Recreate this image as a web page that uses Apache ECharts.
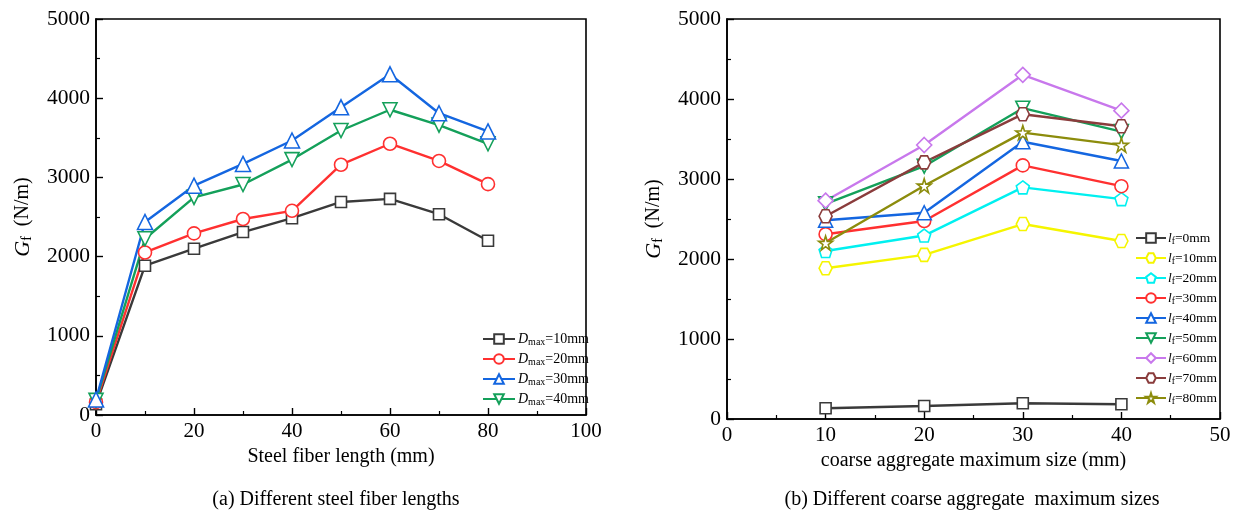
<!DOCTYPE html>
<html><head><meta charset="utf-8">
<script src="https://cdn.jsdelivr.net/npm/echarts@6/dist/echarts.min.js"></script>
<style>html,body{margin:0;padding:0;background:#fff}#c{width:1242px;height:523px}</style>
</head><body><div id="c"></div>
<script>
// ---- Data ----
var fiberLengths = [0, 10, 20, 30, 40, 50, 60, 70, 80];           // mm (chart a x)
var dmax10 = [135, 1885, 2100, 2310, 2485, 2690, 2729, 2535, 2200];
var dmax20 = [162, 2052, 2293, 2475, 2578, 3160, 3425, 3208, 2915];
var dmax30 = [196, 2437, 2895, 3170, 3466, 3885, 4302, 3810, 3580];
var dmax40 = [185, 2225, 2748, 2910, 3225, 3592, 3854, 3660, 3424];

var aggSizes = [10, 20, 30, 40];                                    // mm (chart b x)
var lf0  = [135, 162, 196, 185];
var lf10 = [1885, 2052, 2437, 2225];
var lf20 = [2100, 2293, 2895, 2748];
var lf30 = [2310, 2475, 3170, 2910];
var lf40 = [2485, 2578, 3466, 3225];
var lf50 = [2690, 3160, 3885, 3592];
var lf60 = [2729, 3425, 4302, 3854];
var lf70 = [2535, 3208, 3810, 3660];
var lf80 = [2200, 2915, 3580, 3424];

var yTicks = [0, 1000, 2000, 3000, 4000, 5000];

// ---- Styling ----
var FONT = 'Liberation Serif';
var SYM = {
  hex: 'path://M25,6.7 L75,6.7 L100,50 L75,93.3 L25,93.3 L0,50 Z',
  pent: 'path://M50,0 L97.6,34.5 L79.4,90.5 L20.6,90.5 L2.4,34.5 Z',
  star: 'path://M50,0 L61.2,34.5 L97.6,34.5 L68.2,55.9 L79.4,90.5 L50,69.1 L20.6,90.5 L31.8,55.9 L2.4,34.5 L38.8,34.5 Z',
  down: 'path://M0,0 L100,0 L50,87 Z',
  up: 'path://M50,0 L100,87 L0,87 Z'
};
function pairs(xs, ys){ return xs.map(function(x,i){ return [x, ys[i]]; }); }
function mk(name, xi, xs, ys, color, symbol, size){
  return {
    name: name, type: 'line', xAxisIndex: xi, yAxisIndex: xi,
    data: pairs(xs, ys), color: color,
    symbol: symbol, symbolSize: size || 12, showSymbol: true,
    lineStyle: {color: color, width: 2.4},
    itemStyle: {color: '#fff', borderColor: color, borderWidth: 1.6},
    emphasis: {disabled: true}, animation: false, z: 3
  };
}
var C = {k:'#3a3a3a', r:'#ff3030', b:'#1466e0', g:'#14a05a', y:'#f5f500', c:'#00f0f0', p:'#c878ec', br:'#8a3c3c', o:'#8c8c0c'};

var series = [
  mk('D10', 0, fiberLengths, dmax10, C.k, 'rect', 11),
  mk('D20', 0, fiberLengths, dmax20, C.r, 'circle', 13),
  mk('D40', 0, fiberLengths, dmax40, C.g, SYM.down, 14),
  mk('D30', 0, fiberLengths, dmax30, C.b, SYM.up, 15),
  mk('L0', 1, aggSizes, lf0, C.k, 'rect', 11),
  mk('L10', 1, aggSizes, lf10, C.y, SYM.hex, 13),
  mk('L20', 1, aggSizes, lf20, C.c, SYM.pent, 13),
  mk('L30', 1, aggSizes, lf30, C.r, 'circle', 13),
  mk('L40', 1, aggSizes, lf40, C.b, SYM.up, 14),
  mk('L50', 1, aggSizes, lf50, C.g, SYM.down, 14),
  mk('L60', 1, aggSizes, lf60, C.p, 'diamond', 15),
  mk('L70', 1, aggSizes, lf70, C.br, SYM.hex, 13),
  mk('L80', 1, aggSizes, lf80, C.o, SYM.star, 14)
];

function xAx(gi, max, interval, name, gap){
  return {
    type: 'value', gridIndex: gi, min: 0, max: max, interval: interval,
    name: name, nameLocation: 'middle', nameGap: gap,
    nameTextStyle: {fontFamily: FONT, fontSize: 20, color: '#000'},
    axisLine: {show: true, onZero: false, lineStyle: {color: '#000', width: 1.6}},
    axisTick: {show: true, inside: true, length: 7, lineStyle: {color: '#000', width: 1.4}},
    minorTick: {show: true, splitNumber: 2, length: 4, lineStyle: {color: '#000', width: 1.2}},
    axisLabel: {fontFamily: FONT, fontSize: 21, color: '#000', margin: 6, formatter: function(v){ return String(v); }},
    splitLine: {show: false}
  };
}
function yAx(gi, gap){
  return {
    type: 'value', gridIndex: gi, min: yTicks[0], max: yTicks[yTicks.length-1], interval: 1000,
    name: '{g|G}{f|f}{n|  (N/m)}', nameLocation: 'middle', nameGap: gap, nameRotate: 90,
    nameTextStyle: {fontFamily: FONT, fontSize: 20, color: '#000',
      rich: {
        g: {fontFamily: FONT, fontSize: 22, fontStyle: 'italic', color: '#000'},
        f: {fontFamily: FONT, fontSize: 14, color: '#000', padding: [8,0,0,0]},
        n: {fontFamily: FONT, fontSize: 20, color: '#000'}
      }},
    axisLine: {show: true, lineStyle: {color: '#000', width: 1.6}},
    axisTick: {show: true, inside: true, length: 7, lineStyle: {color: '#000', width: 1.4}},
    minorTick: {show: true, splitNumber: 2, length: 4, lineStyle: {color: '#000', width: 1.2}},
    axisLabel: {fontFamily: FONT, fontSize: 21.5, color: '#000', margin: 6, formatter: function(v){ return String(v); }},
    splitLine: {show: false}
  };
}

var legRich = {
  i: {fontFamily: FONT, fontSize: 14, fontStyle: 'italic', color: '#000'},
  s: {fontFamily: FONT, fontSize: 10, color: '#000', padding: [6,0,0,0]},
  n: {fontFamily: FONT, fontSize: 14, color: '#000'}
};
var legRich2 = {
  i: {fontFamily: FONT, fontSize: 13.5, fontStyle: 'italic', color: '#000'},
  s: {fontFamily: FONT, fontSize: 9.5, color: '#000', padding: [6,0,0,0]},
  n: {fontFamily: FONT, fontSize: 13.5, color: '#000'}
};

var option = {
  backgroundColor: '#fff',
  animation: false,
  grid: [
    {left: 96, right: 656, top: 19, bottom: 108, show: true, borderColor: '#000', borderWidth: 1.6, backgroundColor: 'transparent'},
    {left: 727, right: 22, top: 19, bottom: 104, show: true, borderColor: '#000', borderWidth: 1.6, backgroundColor: 'transparent'}
  ],
  xAxis: [xAx(0, 100, 20, 'Steel fiber length (mm)', 30), xAx(1, 50, 10, 'coarse aggregate maximum size (mm)', 32)],
  yAxis: [yAx(0, 62), yAx(1, 62)],
  legend: [
    {
      left: 477, top: 327, orient: 'vertical', itemGap: 5, itemWidth: 32, itemHeight: 12,
      data: ['D10', 'D20', 'D30', 'D40'],
      formatter: function(n){ return '{i|D}{s|max}{n|=' + n.slice(1) + 'mm}'; },
      textStyle: {rich: legRich, padding: [0,0,0,-2]},
      selectedMode: false
    },
    {
      left: 1130, top: 226, orient: 'vertical', itemGap: 5, itemWidth: 30, itemHeight: 12,
      data: ['L0','L10','L20','L30','L40','L50','L60','L70','L80'],
      formatter: function(n){ return '{i|l}{s|f}{n|=' + n.slice(1) + 'mm}'; },
      textStyle: {rich: legRich2, padding: [0,0,0,-3]},
      selectedMode: false
    }
  ],
  title: [
    {text: '(a) Different steel fiber lengths', left: 331, top: 485, textAlign: 'center',
     textStyle: {fontFamily: FONT, fontSize: 20, fontWeight: 'normal', color: '#000'}},
    {text: '(b) Different coarse aggregate  maximum sizes', left: 967, top: 485, textAlign: 'center',
     textStyle: {fontFamily: FONT, fontSize: 20, fontWeight: 'normal', color: '#000'}}
  ],
  series: series
};
var chart = echarts.init(document.getElementById('c'), null, {renderer: 'canvas'});
chart.setOption(option);
</script></body></html>
